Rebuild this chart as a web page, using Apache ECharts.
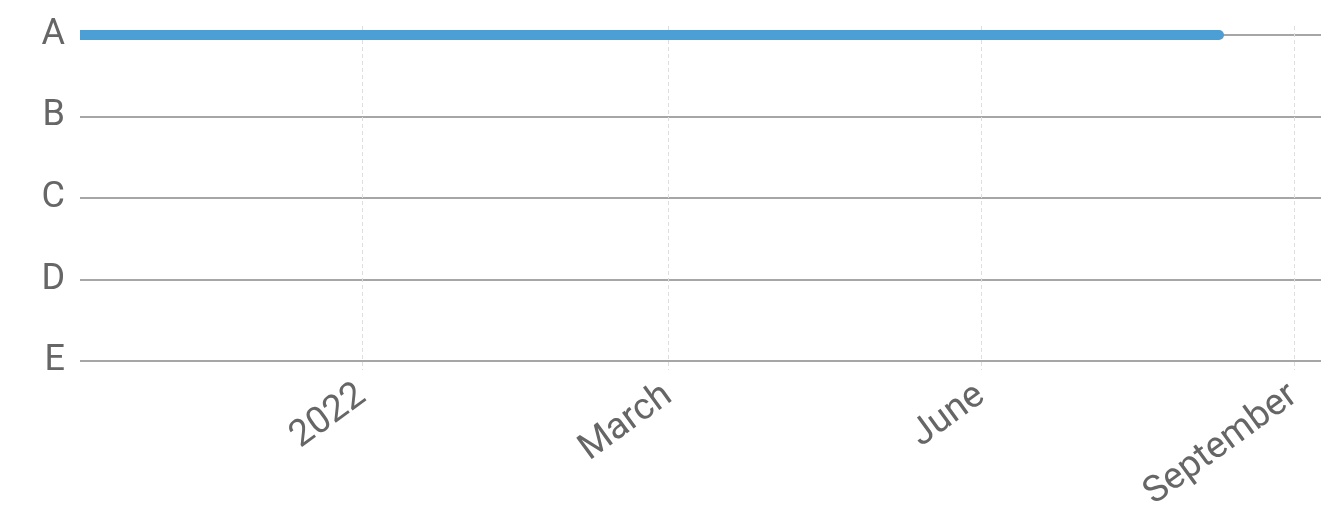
<!DOCTYPE html>
<html>
<head>
<meta charset="utf-8">
<script src="https://cdn.jsdelivr.net/npm/echarts@6/dist/echarts.min.js"></script>
<style>
  html, body { margin: 0; padding: 0; background: #fff; }
  #main { width: 1343px; height: 505px; }
</style>
</head>
<body>
<div id="main"></div>
<script>
// categories on the y axis, A at the top
var categories = ['A', 'B', 'C', 'D', 'E']
// x axis range and ticks
var xMin = '2021-09-09'
var xMax = '2022-09-09'
var tickDates = ['2021-12-01', '2022-03-01', '2022-06-01', '2022-09-01']
var tickLabels = ['2022', 'March', 'June', 'September']
// the series: stays on A from the start to early August
var lineDates = ['2021-09-09', '2022-08-10']
var lineCats = ['A', 'A']

// x is counted in days from xMin (time axis doesn't take customValues)
var DAY = 86400000
function toDay(s) {
  var p = s.split('-').map(Number)
  var q = xMin.split('-').map(Number)
  return Math.round((Date.UTC(p[0], p[1] - 1, p[2]) - Date.UTC(q[0], q[1] - 1, q[2])) / DAY)
}
var tickValues = tickDates.map(toDay)
var catValues = categories.map(function (c, i) { return i })

var chart = echarts.init(document.getElementById('main'))
var option = {
  animation: false,
  grid: {
    left: 80,
    right: 22,
    top: 26,
    bottom: 135,
    outerBoundsMode: 'none'
  },
  xAxis: {
    type: 'value',
    min: 0,
    max: toDay(xMax),
    axisLine: { show: false },
    axisTick: { show: false, customValues: tickValues },
    axisLabel: {
      customValues: tickValues,
      rotate: 36,
      margin: 22,
      color: '#666',
      fontFamily: 'Roboto',
      fontSize: 37,
      formatter: function (v) {
        var i = tickValues.indexOf(v)
        return i >= 0 ? tickLabels[i] : ''
      }
    },
    splitLine: {
      show: true,
      lineStyle: { color: '#dedede', type: [4, 3], width: 1 }
    }
  },
  yAxis: {
    type: 'value',
    inverse: true,
    min: -0.11,
    max: 4.11,
    axisLine: { show: false },
    axisTick: { show: false, customValues: catValues },
    axisLabel: {
      customValues: catValues,
      margin: 15,
      color: '#666',
      fontFamily: 'Roboto',
      fontSize: 36,
      formatter: function (v) {
        return categories[Math.round(v)]
      }
    },
    splitLine: {
      show: true,
      lineStyle: { color: '#888', width: 1.5 }
    }
  },
  series: [
    {
      type: 'line',
      clip: true,
      symbol: 'circle',
      // only the last point gets a dot, that's the round end
      symbolSize: function (val, params) {
        return params.dataIndex == lineDates.length - 1 ? 10 : 0
      },
      itemStyle: { color: '#4b9fd5' },
      data: lineDates.map(function (d, i) {
        return [toDay(d), categories.indexOf(lineCats[i])]
      }),
      lineStyle: { color: '#4b9fd5', width: 10, cap: 'butt' }
    }
  ]
}
chart.setOption(option)
</script>
</body>
</html>
